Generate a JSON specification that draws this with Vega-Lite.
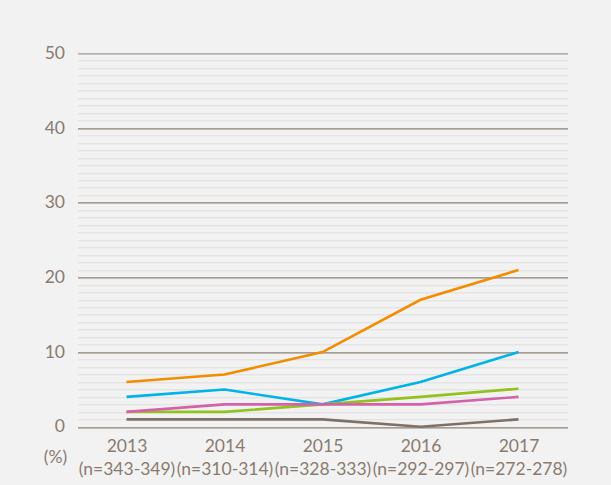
{
  "$schema": "https://vega.github.io/schema/vega-lite/v6.json",
  "autosize": "none",
  "width": 490,
  "height": 373.5,
  "padding": {"left": 77.5, "top": 53.3, "right": 43.5, "bottom": 58.2},
  "background": "#f2f2f2",
  "config": {
    "view": {"stroke": null},
    "font": "Lato"
  },
  "data": {
    "values": [
      {"year": "2013", "series": "A", "value": 6},
      {"year": "2014", "series": "A", "value": 7},
      {"year": "2015", "series": "A", "value": 10},
      {"year": "2016", "series": "A", "value": 17},
      {"year": "2017", "series": "A", "value": 21},
      {"year": "2013", "series": "B", "value": 4},
      {"year": "2014", "series": "B", "value": 5},
      {"year": "2015", "series": "B", "value": 3},
      {"year": "2016", "series": "B", "value": 6},
      {"year": "2017", "series": "B", "value": 10},
      {"year": "2013", "series": "C", "value": 2},
      {"year": "2014", "series": "C", "value": 2},
      {"year": "2015", "series": "C", "value": 3},
      {"year": "2016", "series": "C", "value": 4},
      {"year": "2017", "series": "C", "value": 5.1},
      {"year": "2013", "series": "D", "value": 2},
      {"year": "2014", "series": "D", "value": 3},
      {"year": "2015", "series": "D", "value": 3},
      {"year": "2016", "series": "D", "value": 3},
      {"year": "2017", "series": "D", "value": 4},
      {"year": "2013", "series": "E", "value": 1},
      {"year": "2014", "series": "E", "value": 1},
      {"year": "2015", "series": "E", "value": 1},
      {"year": "2016", "series": "E", "value": 0},
      {"year": "2017", "series": "E", "value": 1}
    ]
  },
  "mark": {"type": "line", "strokeWidth": 2.6},
  "encoding": {
    "x": {
      "field": "year",
      "type": "ordinal",
      "scale": {"type": "point", "padding": 0.5},
      "axis": {
        "title": null,
        "domain": false,
        "ticks": false,
        "grid": false,
        "labelAngle": 0,
        "labelFontSize": 17.5,
        "labelColor": "#897b70",
        "labelPadding": 11,
        "labelLineHeight": 23,
        "labelExpr": "datum.label == '2013' ? ['2013', '(n=343-349)'] : datum.label == '2014' ? ['2014', '(n=310-314)'] : datum.label == '2015' ? ['2015', '(n=328-333)'] : datum.label == '2016' ? ['2016', '(n=292-297)'] : ['2017', '(n=272-278)']"
      }
    },
    "y": {
      "field": "value",
      "type": "quantitative",
      "scale": {"domain": [0, 50], "nice": false},
      "axis": {
        "title": "(%)",
        "titleAngle": 0,
        "titleAlign": "center",
        "titleBaseline": "middle",
        "titleX": -22.5,
        "titleY": 403.7,
        "titleFontSize": 17.5,
        "titleFontWeight": "normal",
        "titleColor": "#897b70",
        "domain": false,
        "ticks": false,
        "values": [0,1,2,3,4,5,6,7,8,9,10,11,12,13,14,15,16,17,18,19,20,21,22,23,24,25,26,27,28,29,30,31,32,33,34,35,36,37,38,39,40,41,42,43,44,45,46,47,48,49,50],
        "labelExpr": "datum.value % 10 === 0 ? datum.label : ''",
        "labelFontSize": 17.5,
        "labelColor": "#897b70",
        "labelPadding": 13,
        "grid": true,
        "gridColor": {
          "condition": [
            {"test": "datum.value === 50", "value": "#a09a96"},
            {"test": "datum.value % 10 === 0", "value": "#8c8076"}
          ],
          "value": "#dedede"
        },
        "gridWidth": {
          "condition": {"test": "datum.value % 10 === 0", "value": 1.3},
          "value": 1
        }
      }
    },
    "color": {
      "field": "series",
      "type": "nominal",
      "scale": {
        "domain": ["A", "B", "C", "D", "E"],
        "range": ["#f28c00", "#00b3e8", "#93c11f", "#d462aa", "#7d7068"]
      },
      "legend": null
    }
  }
}
